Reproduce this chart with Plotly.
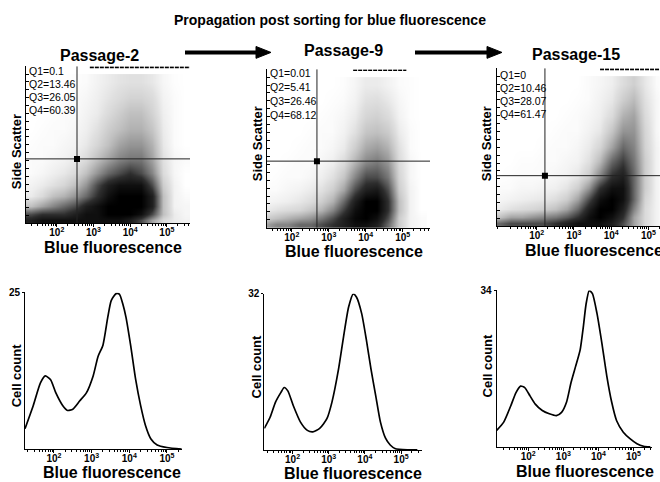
import numpy as np
import plotly.graph_objects as go

W, H = 660, 482

# ---------------- data ----------------
passage_names = ["Passage-2", "Passage-9", "Passage-15"]
q1 = [0.1, 0.01, 0]
q2 = [13.46, 5.41, 10.46]
q3 = [26.05, 26.46, 28.07]
q4 = [60.39, 68.12, 61.47]
gate_fluor_log = [2.55, 2.68, 2.22]      # log10 of the vertical gate
gate_ssc = [41, 42, 32]                  # side scatter gate (% of scale)
top_row_start_log = [2.9, 3.66, 3.7]     # saturated events along the top
top_row_end_log = [5.63, 5.1, 5.31]
tick_decades = [2, 3, 4, 5]
hist_ymax = [25, 32, 34]

# estimated dot density (0 = empty, 10 = solid black) of the dot plots
density_x_log = [1.0, 1.3, 1.6, 1.9, 2.2, 2.5, 2.8, 3.1, 3.4, 3.7, 4.0, 4.3, 4.6, 4.9, 5.2, 5.5]
density_y_ssc = [2, 6, 11, 17, 24, 32, 41, 50, 60, 70, 80, 90]
density_p2 = [
    [8, 8, 9, 9, 9, 9, 9, 9, 9, 9, 8, 6, 3, 1, 0.5, 0.3],
    [6, 6, 7, 7, 7, 8, 9, 9, 10, 10, 10, 9, 6, 2, 0.5, 0.2],
    [2, 2, 3, 4, 5, 6, 8, 9, 10, 10, 10, 10, 8, 2, 0.3, 0.2],
    [0.5, 0.5, 1, 2, 2.5, 3.5, 5, 7, 9, 10, 10, 10, 8, 2, 0.3, 0.1],
    [0.3, 0.3, 0.5, 0.8, 1.2, 2, 3.5, 6, 8, 9, 9, 9, 6, 1.5, 0.3, 0],
    [0.1, 0.1, 0.2, 0.4, 0.6, 1, 2, 3.5, 5, 6, 7, 6, 4, 1, 0.2, 0],
    [0.1, 0.1, 0.1, 0.2, 0.3, 0.5, 1, 2, 3, 4, 4.5, 4.5, 3, 0.8, 0.2, 0.1],
    [0, 0.05, 0.1, 0.1, 0.2, 0.3, 0.6, 1.2, 2, 3, 3.5, 3.5, 2.5, 0.6, 0.1, 0],
    [0, 0, 0.05, 0.1, 0.1, 0.2, 0.4, 0.8, 1.5, 2, 2.5, 2.5, 1.8, 0.5, 0.1, 0],
    [0, 0, 0, 0.05, 0.1, 0.1, 0.3, 0.5, 1, 1.5, 2, 2, 1.3, 0.4, 0.1, 0],
    [0, 0, 0, 0, 0.05, 0.1, 0.2, 0.4, 0.7, 1, 1.3, 1.3, 1, 0.3, 0.1, 0],
    [0, 0, 0, 0, 0, 0.05, 0.1, 0.3, 0.5, 0.7, 0.8, 0.8, 0.6, 0.2, 0.05, 0],
]
density_p9 = [
    [3, 3, 4, 4, 5, 5, 6, 7, 8, 9, 9, 8, 5, 1.5, 0.3, 0.1],
    [1.5, 1.5, 2, 2.5, 3, 3.5, 4.5, 6, 8, 9.5, 10, 9, 6, 1.5, 0.3, 0.1],
    [0.5, 0.5, 0.8, 1, 1.2, 1.8, 2.5, 4, 6.5, 9, 10, 10, 7, 2, 0.3, 0],
    [0.2, 0.2, 0.3, 0.4, 0.6, 0.9, 1.5, 2.5, 5, 8, 10, 10, 7, 2, 0.3, 0],
    [0.1, 0.1, 0.1, 0.2, 0.3, 0.5, 0.8, 1.5, 3, 6, 8, 8.5, 6, 1.5, 0.3, 0],
    [0, 0, 0.05, 0.1, 0.1, 0.2, 0.4, 0.8, 1.8, 4, 6, 6, 4.5, 1.2, 0.2, 0],
    [0, 0, 0, 0.05, 0.1, 0.1, 0.2, 0.4, 1, 2.5, 4, 4.5, 3.5, 1, 0.2, 0],
    [0, 0, 0, 0, 0.05, 0.1, 0.1, 0.2, 0.5, 1.5, 2.8, 3.2, 2.5, 0.8, 0.1, 0],
    [0, 0, 0, 0, 0, 0.05, 0.1, 0.1, 0.3, 0.8, 1.8, 2, 1.6, 0.5, 0.1, 0],
    [0, 0, 0, 0, 0, 0, 0.05, 0.1, 0.2, 0.5, 1.2, 1.4, 1, 0.3, 0.05, 0],
    [0, 0, 0, 0, 0, 0, 0, 0.05, 0.1, 0.3, 0.8, 0.9, 0.6, 0.2, 0.05, 0],
    [0, 0, 0, 0, 0, 0, 0, 0, 0.05, 0.2, 0.5, 0.5, 0.3, 0.1, 0.05, 0],
]
density_p15 = [
    [5, 6, 6, 6, 6, 7, 8, 9, 9, 9, 8, 6, 3, 1, 0.3, 0.1],
    [2, 3, 3, 3.5, 4, 4.5, 5.5, 7, 9, 10, 9, 7, 3, 1, 0.3, 0.1],
    [0.5, 0.8, 1, 1.2, 1.5, 2, 3, 5, 8, 10, 10, 8, 4, 1, 0.3, 0],
    [0.2, 0.3, 0.4, 0.5, 0.6, 0.9, 1.5, 3, 6, 9, 10, 9, 5, 1.2, 0.3, 0],
    [0.1, 0.1, 0.2, 0.2, 0.3, 0.4, 0.7, 1.5, 3.5, 7, 9, 9, 5, 1.5, 0.3, 0],
    [0, 0.05, 0.1, 0.1, 0.1, 0.2, 0.3, 0.6, 1.5, 4, 7, 8, 5, 1.5, 0.3, 0],
    [0, 0, 0.05, 0.05, 0.1, 0.1, 0.2, 0.3, 0.8, 2.2, 5, 6.5, 4.5, 1.5, 0.3, 0],
    [0, 0, 0, 0, 0.05, 0.1, 0.1, 0.2, 0.5, 1.2, 3, 5, 4, 1.3, 0.3, 0],
    [0, 0, 0, 0, 0, 0.05, 0.1, 0.1, 0.3, 0.6, 1.8, 3.5, 3.5, 1.2, 0.2, 0],
    [0, 0, 0, 0, 0, 0, 0.05, 0.1, 0.2, 0.4, 1, 2.5, 3, 1, 0.2, 0],
    [0, 0, 0, 0, 0, 0, 0, 0.05, 0.1, 0.3, 0.6, 1.5, 2.2, 0.8, 0.2, 0],
    [0, 0, 0, 0, 0, 0, 0, 0, 0.1, 0.2, 0.4, 0.9, 1.4, 0.6, 0.1, 0],
]

# histograms: log10(blue fluorescence) vs cell count
h2_logx = [1.23, 1.45, 1.64, 1.77, 1.91, 2.05, 2.23, 2.36, 2.50, 2.68, 2.86, 3.04, 3.17, 3.30,
           3.43, 3.52, 3.65, 3.74, 3.83, 3.91, 4.04, 4.17, 4.30, 4.43, 4.57, 4.74, 5.0, 5.39]
h2_count = [3.3, 7.0, 10.6, 11.7, 11.1, 9.0, 7.0, 6.2, 6.4, 7.7, 9.0, 11.7, 14.8, 16.6,
            21.1, 23.7, 24.8, 24.7, 23.1, 21.1, 16.4, 11.1, 7.0, 3.8, 1.7, 0.7, 0.3, 0.05]
h9_logx = [1.22, 1.38, 1.53, 1.68, 1.77, 1.87, 2.02, 2.22, 2.41, 2.56, 2.75, 2.95, 3.09, 3.27,
           3.41, 3.55, 3.68, 3.77, 3.91, 4.04, 4.17, 4.30, 4.43, 4.57, 4.70, 4.83, 5.17, 5.45]
h9_count = [4.4, 6.7, 9.8, 11.8, 12.8, 12.1, 9.1, 5.7, 4.0, 3.7, 4.4, 6.4, 9.8, 16.5,
            23.2, 29.3, 32, 31.3, 28, 22.6, 16.5, 11.1, 5.7, 2.4, 1.0, 0.3, 0, 0]
h15_logx = [1.10, 1.30, 1.50, 1.65, 1.78, 1.90, 2.05, 2.20, 2.40, 2.60, 2.80, 2.95, 3.09, 3.22,
            3.35, 3.48, 3.57, 3.65, 3.74, 3.83, 3.96, 4.10, 4.24, 4.38, 4.52, 4.71, 4.90, 5.10,
            5.29, 5.48]
h15_count = [3.6, 5.4, 8.9, 11.8, 13.2, 12.9, 11.1, 9.3, 7.9, 7.2, 6.8, 7.5, 9.7, 14.0,
             17.5, 21.1, 26.1, 31.1, 34, 33.3, 29, 22.5, 15.4, 9.7, 5.7, 3.2, 1.8, 0.7, 0.15, 0]

densities = [density_p2, density_p9, density_p15]
hists = [(h2_logx, h2_count), (h9_logx, h9_count), (h15_logx, h15_count)]

# ---------------- layout helpers ----------------
FONT = "Arial, Liberation Sans, sans-serif"


def px_x(x):
    return x / W


def px_y(y):
    return 1 - y / H


scatter_box = [(26, 190, 61, 220), (266.7, 430, 64, 224.5), (496.7, 660, 63, 223)]
scatter_xrange = [(1.16, 5.63), (1.32, 5.74), (0.925, 5.31)]
hist_box = [(25, 182, 290, 449), (264.3, 421.7, 291.5, 449.5), (496.7, 651.7, 288, 446.5)]
hist_xrange = [(1.23, 5.4), (1.22, 5.57), (1.10, 5.52)]

minor_vals = [float(np.log10(k * 10 ** n)) for n in range(0, 6) for k in range(2, 10)]
tick_text = ["<b>10<sup>%d</sup></b>" % d for d in tick_decades]

colorscale = [[0, "#ffffff"], [0.02, "#f6f6f6"], [0.08, "#e0e0e0"], [0.2, "#c0c0c0"],
              [0.4, "#858585"], [0.7, "#2e2e2e"], [1, "#000000"]]

fig = go.Figure()
layout = dict(
    width=W, height=H, margin=dict(l=0, r=0, t=0, b=0), autosize=False,
    paper_bgcolor="white", plot_bgcolor="white", showlegend=False,
    font=dict(family=FONT, color="black"),
)
annotations = []
shapes = []


def xaxis_cfg(dom, rng):
    return dict(domain=dom, range=list(rng), showline=True, linecolor="black", linewidth=1,
                showgrid=False, zeroline=False, tickmode="array", tickvals=tick_decades,
                ticktext=tick_text, ticks="outside", ticklen=3, tickcolor="black",
                ticklabelstandoff=-3,
                tickfont=dict(size=10, family=FONT), fixedrange=True,
                minor=dict(tickmode="array", tickvals=minor_vals, ticks="outside",
                           ticklen=2, tickcolor="black"))


for i in range(3):
    # ---------- dot plot (top row) ----------
    ax = 2 * i + 1
    xa = "x" if ax == 1 else "x%d" % ax
    ya = "y" if ax == 1 else "y%d" % ax
    l, r, t, b = scatter_box[i]
    layout["xaxis" if ax == 1 else "xaxis%d" % ax] = dict(
        xaxis_cfg([px_x(l), min(1.0, px_x(r))], scatter_xrange[i]), anchor=ya)
    layout["yaxis" if ax == 1 else "yaxis%d" % ax] = dict(
        domain=[px_y(b), px_y(t)], range=[0, 100], anchor=xa, showline=True,
        linecolor="black", linewidth=1, showgrid=False, zeroline=False,
        showticklabels=False, ticks="inside", ticklen=3, tick0=0, dtick=5,
        tickcolor="black", fixedrange=True)

    fig.add_trace(go.Heatmap(x=density_x_log, y=density_y_ssc, z=densities[i],
                             zmin=0, zmax=10, colorscale=colorscale, showscale=False,
                             zsmooth="best", xaxis=xa, yaxis=ya, hoverinfo="skip"))
    # saturated events on the top edge
    fig.add_trace(go.Scatter(x=[top_row_start_log[i], top_row_end_log[i]], y=[99.3, 99.3],
                             mode="lines", line=dict(color="black", width=1.6, dash="4px,1px"),
                             xaxis=xa, yaxis=ya, cliponaxis=False, hoverinfo="skip"))
    # quadrant gates
    x0, x1 = scatter_xrange[i]
    fig.add_trace(go.Scatter(x=[gate_fluor_log[i], gate_fluor_log[i]], y=[0, 100],
                             mode="lines", line=dict(color="#222", width=1),
                             xaxis=xa, yaxis=ya, hoverinfo="skip"))
    fig.add_trace(go.Scatter(x=[x0, x1], y=[gate_ssc[i], gate_ssc[i]],
                             mode="lines", line=dict(color="#222", width=1),
                             xaxis=xa, yaxis=ya, hoverinfo="skip"))
    fig.add_trace(go.Scatter(x=[gate_fluor_log[i]], y=[gate_ssc[i]], mode="markers",
                             marker=dict(symbol="square", size=6, color="black"),
                             xaxis=xa, yaxis=ya, hoverinfo="skip"))

    # ---------- histogram (bottom row) ----------
    ax = 2 * i + 2
    xa = "x%d" % ax
    ya = "y%d" % ax
    l, r, t, b = hist_box[i]
    layout["xaxis%d" % ax] = dict(xaxis_cfg([px_x(l), px_x(r)], hist_xrange[i]), anchor=ya)
    layout["yaxis%d" % ax] = dict(
        domain=[px_y(b), px_y(t)], range=[0, hist_ymax[i]], anchor=xa, showline=True,
        linecolor="black", linewidth=1, showgrid=False, zeroline=False,
        tickmode="array", tickvals=[hist_ymax[i]], ticktext=["<b>%d</b>" % hist_ymax[i]],
        ticks="outside", ticklen=2, tickcolor="black", tickfont=dict(size=10, family=FONT),
        fixedrange=True)
    hx, hy = hists[i]
    fig.add_trace(go.Scatter(x=hx, y=hy, mode="lines",
                             line=dict(color="black", width=1.7, shape="spline", smoothing=0.6),
                             xaxis=xa, yaxis=ya, cliponaxis=False, hoverinfo="skip"))


def ann(text, x, y, size, bold=True, angle=0, xanchor="center"):
    annotations.append(dict(
        text=("<b>%s</b>" % text) if bold else text, x=px_x(x), y=px_y(y),
        xref="paper", yref="paper", showarrow=False, textangle=angle,
        xanchor=xanchor, yanchor="middle", font=dict(size=size, family=FONT, color="black")))


ann("Propagation post sorting for blue fluorescence", 330, 14, 14)
passage_pos = [(99, 50), (343, 45), (576, 49)]
side_pos = [(16, 148), (257, 140), (486, 140)]
sfl_pos = [(113, 245), (354, 249), (594, 248)]
cell_pos = [(16, 374), (256, 365), (487, 364)]
hfl_pos = [(112, 472), (353, 473), (585, 471)]
q_x = [27, 268, 498]
q_y = [[66, 79, 92, 105], [68, 82, 96, 110], [70, 83, 96, 109]]

for i in range(3):
    ann(passage_names[i], *passage_pos[i], 16)
    ann("Side Scatter", *side_pos[i], 13, angle=-90)
    ann("Blue fluorescence", *sfl_pos[i], 16)
    ann("Cell count", *cell_pos[i], 13, angle=-90)
    ann("Blue fluorescence", *hfl_pos[i], 16)
    labels = ["Q1=%g" % q1[i], "Q2=%g" % q2[i], "Q3=%g" % q3[i], "Q4=%g" % q4[i]]
    for j, lab in enumerate(labels):
        ann(lab, q_x[i], q_y[i][j], 10.5, bold=False, xanchor="left")

# arrows between the passages
for (xs, xe, y) in [(185, 271, 47), (415, 502, 47)]:
    shapes.append(dict(type="line", xref="paper", yref="paper", x0=px_x(xs), x1=px_x(xe - 12),
                       y0=px_y(y), y1=px_y(y), line=dict(color="black", width=4)))
    shapes.append(dict(type="path", xref="paper", yref="paper",
                       path="M %f,%f L %f,%f L %f,%f Z" % (px_x(xe - 15), px_y(y - 6),
                                                           px_x(xe), px_y(y),
                                                           px_x(xe - 15), px_y(y + 6)),
                       fillcolor="black", line=dict(color="black", width=1)))

layout["annotations"] = annotations
layout["shapes"] = shapes
fig.update_layout(**layout)
fig.write_html("out.html", config={"displayModeBar": False},
               post_script="document.body.style.margin='0';document.body.style.padding='0';")
